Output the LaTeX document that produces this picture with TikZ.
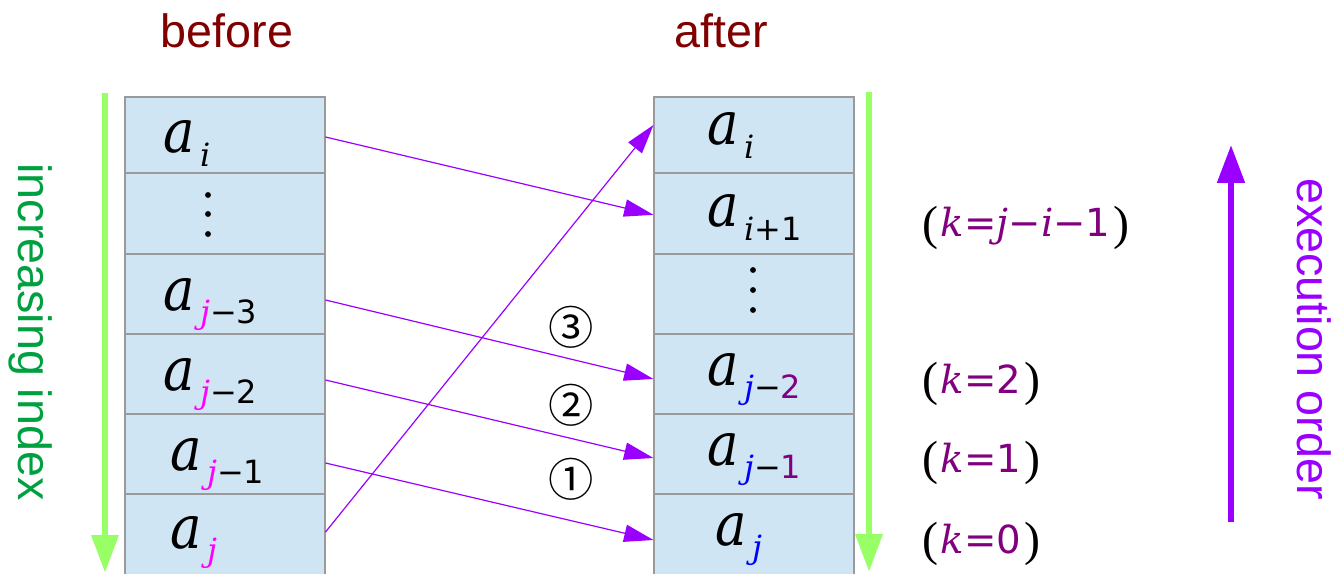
\documentclass[tikz,border=0pt]{standalone}
\usepackage{fontspec}
\setmainfont{Liberation Sans}
\newfontfamily\varfont{DejaVu Serif}
\newfontfamily\afont{DejaVu Serif}[FakeStretch=0.88]
\newfontfamily\numfont{DejaVu Sans}
\newfontfamily\parfont{Liberation Serif}
\newfontfamily\circfont{Noto Sans CJK JP}
\usetikzlibrary{arrows.meta}

\definecolor{cellfill}{HTML}{CFE5F3}
\definecolor{cellline}{HTML}{9A9A9A}
\definecolor{darkred}{HTML}{800000}
\definecolor{idxgreen}{HTML}{00A040}
\definecolor{lightgreen}{HTML}{99FF66}
\definecolor{execpurple}{HTML}{9900FF}
\definecolor{kpurple}{HTML}{800080}
\definecolor{jmagenta}{HTML}{FF00FF}
\definecolor{jblue}{HTML}{0000FF}

\newcommand{\vv}[1]{{\varfont\itshape #1}}
\newcommand{\jm}{{\color{jmagenta}\vv{j}}}
\newcommand{\jb}{{\color{jblue}\vv{j}}}
\newcommand{\kp}[1]{{\color{kpurple}#1}}
\newcommand{\elem}[1]{{\afont\itshape\fontsize{45}{45}\selectfont a}\kern4pt\raisebox{-10pt}{\fontsize{24}{24}\selectfont #1}}
\newcommand{\klabel}[1]{{\parfont\fontsize{36}{36}\selectfont\raisebox{-2pt}{(}}\kern2pt{\fontsize{29}{29}\selectfont\color{kpurple}#1}\kern2pt{\parfont\fontsize{36}{36}\selectfont\raisebox{-2pt}{)}}}

\begin{document}
\begin{tikzpicture}[x=0.75pt, y=-0.75pt,
  cell/.style={draw=cellline, line width=0.8pt, fill=cellfill, minimum width=150pt, inner sep=0pt},
  elemlab/.style={anchor=base west, inner sep=0pt},
  move/.style={draw=execpurple, line width=0.9pt, -{Triangle[length=22pt, width=13pt]}},
  guide/.style={draw=lightgreen, line width=5pt, -{Triangle[length=28.5pt, width=19.5pt]}},
  side/.style={rotate=-90, anchor=base, inner sep=0pt, font=\fontsize{35}{35}\selectfont},
  circnum/.style={inner sep=0pt, font=\circfont\fontsize{34}{34}\selectfont}]
\clip (0,0) rectangle (1335,574);
% cells, before and after
\foreach \n/\y/\h in {1/135/76, 2/213.5/81, 3/294/80, 4/374/80, 5/454/80, 6/537/86} {
  \node[cell, minimum height=\h*0.75pt] (L\n) at (225,\y) {};
  \node[cell, minimum height=\h*0.75pt] (R\n) at (754,\y) {};
}
\node[anchor=base, text=darkred, font=\fontsize{35}{35}\selectfont] (before) at (227,48) {before};
\node[anchor=base, text=darkred, font=\fontsize{35}{35}\selectfont] (after) at (721,48) {after};
% before
\node[elemlab] (la1) at (163,153) {\elem{\vv{i}}};
\foreach \y in {195,214,234} { \fill (208,\y) circle (2.2pt); }
\node[elemlab] (la3) at (163,310) {\elem{\jm{\numfont −3}}};
\node[elemlab] (la4) at (163,390) {\elem{\jm{\numfont −2}}};
\node[elemlab] (la5) at (170,470) {\elem{\jm{\numfont −1}}};
\node[elemlab] (la6) at (170,548) {\elem{\jm}};
% after
\node[elemlab] (ra1) at (707,145) {\elem{\vv{i}}};
\node[elemlab] (ra2) at (707,227) {\elem{\vv{i}{\numfont +1}}};
\foreach \y in {270,290,310} { \fill (753,\y) circle (2.2pt); }
\node[elemlab] (ra4) at (707,385) {\elem{\jb{\numfont −\kp{2}}}};
\node[elemlab] (ra5) at (707,465) {\elem{\jb{\numfont −\kp{1}}}};
\node[elemlab] (ra6) at (715,545) {\elem{\jb}};
% k values
\node[elemlab] (k3) at (922,237) {\klabel{\vv{k}{\numfont =}\vv{j}{\numfont −}\vv{i}{\numfont −1}}};
\node[elemlab] (k2) at (922,393) {\klabel{\vv{k}{\numfont =2}}};
\node[elemlab] (k1) at (922,472) {\klabel{\vv{k}{\numfont =1}}};
\node[elemlab] (k0) at (922,553) {\klabel{\vv{k}{\numfont =0}}};
% moves
\draw[move] ([yshift=-1.5pt]L1.east) -- ([yshift=-1pt]R2.west);
\draw[move] ([yshift=-4.5pt]L3.east) -- ([yshift=-3.75pt]R4.west);
\draw[move] ([yshift=-4.5pt]L4.east) -- ([yshift=-3pt]R5.west);
\draw[move] ([yshift=-6.75pt]L5.east) -- ([yshift=-2.25pt]R6.west);
\draw[move] ([yshift=3.75pt]L6.east) -- ([yshift=7.5pt]R1.west);
\node[circnum] (c3) at (571,327) {③};
\node[circnum] (c2) at (571,405) {②};
\node[circnum] (c1) at (571,479) {①};
% side arrows
\coordinate (gl1) at (105,93); \coordinate (gl2) at (105,573);
\coordinate (gr1) at (869,92); \coordinate (gr2) at (869,572);
\coordinate (ex1) at (1231,522); \coordinate (ex2) at (1231,145);
\draw[guide] (gl1) -- (gl2);
\draw[guide] (gr1) -- (gr2);
\draw[draw=execpurple, line width=4.5pt, -{Triangle[length=28.5pt, width=20pt]}] (ex1) -- (ex2);
\node[side, text=idxgreen] (incr) at (18,332) {increasing index};
\node[side, text=execpurple] (exec) at (1297,339) {execution order};
\end{tikzpicture}
\end{document}
